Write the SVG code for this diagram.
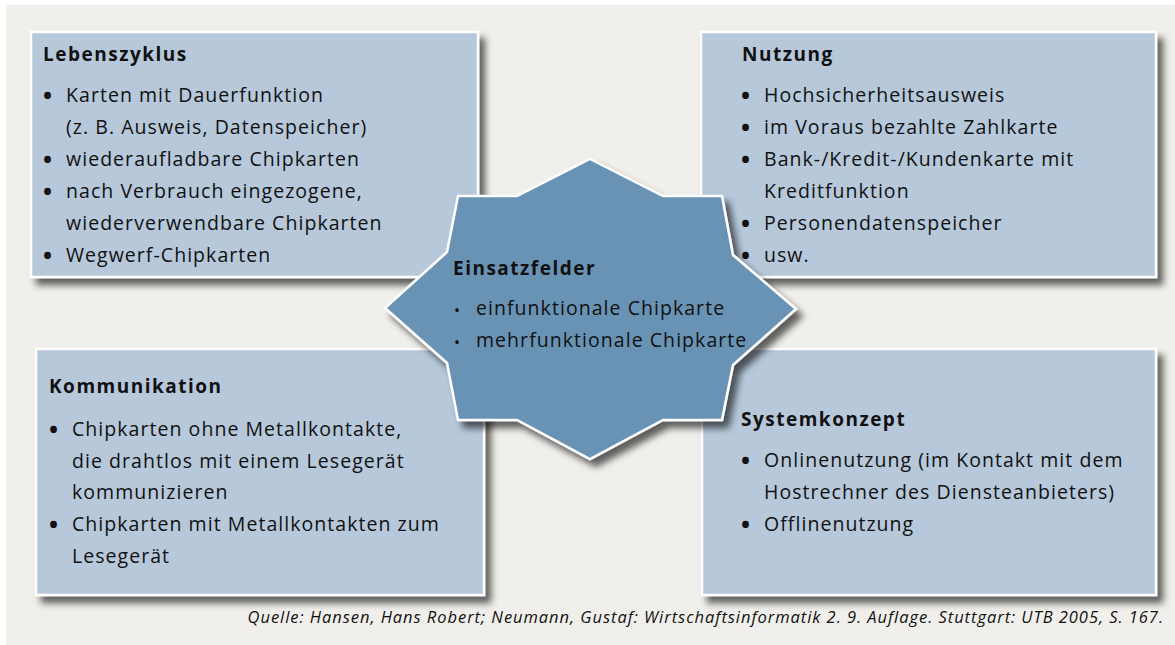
<svg xmlns="http://www.w3.org/2000/svg" width="1175" height="645" viewBox="0 0 1175 645">
<defs>
<filter id="sh" x="-10%" y="-10%" width="125%" height="130%">
<feDropShadow dx="6" dy="7" stdDeviation="3.5" flood-color="#000" flood-opacity="0.6"/>
</filter>
<style>
.box{fill:#b6c8da;stroke:#fff;stroke-width:2.5;filter:url(#sh)}
.star{fill:#6993b5;stroke:#fff;stroke-width:2.5;filter:url(#sh)}
text{font-family:"Open Sans","Noto Sans","Liberation Sans",sans-serif;fill:#111}
.t{font-size:19px;font-weight:700;letter-spacing:1.5px}
.b{font-size:19.5px;letter-spacing:1.05px}
.d{font-size:24px;font-weight:700}
.sd{font-size:16px}
.q{font-size:16.5px;font-style:italic;letter-spacing:0.95px}
</style>
</defs>
<rect x="0" y="0" width="1175" height="645" fill="#fff"/>
<rect x="6" y="5" width="1169" height="640" fill="#f1efeb"/>
<g id="lebenszyklus">
<rect class="box" x="31" y="32" width="447" height="245"/>
<text class="t" x="43" y="61">Lebenszyklus</text>
<text class="d" x="43" y="104">•</text><text class="b" x="66" y="102">Karten mit Dauerfunktion</text>
<text class="b" x="66" y="134">(z. B. Ausweis, Datenspeicher)</text>
<text class="d" x="43" y="168">•</text><text class="b" x="66" y="166">wiederaufladbare Chipkarten</text>
<text class="d" x="43" y="200">•</text><text class="b" x="66" y="198">nach Verbrauch eingezogene,</text>
<text class="b" x="66" y="230">wiederverwendbare Chipkarten</text>
<text class="d" x="43" y="264">•</text><text class="b" x="66" y="262">Wegwerf-Chipkarten</text>
</g>
<g id="nutzung">
<rect class="box" x="701" y="32" width="455" height="245"/>
<text class="t" x="742" y="61">Nutzung</text>
<text class="d" x="741" y="104">•</text><text class="b" x="764" y="102">Hochsicherheitsausweis</text>
<text class="d" x="741" y="136">•</text><text class="b" x="764" y="134">im Voraus bezahlte Zahlkarte</text>
<text class="d" x="741" y="168">•</text><text class="b" x="764" y="166">Bank-/Kredit-/Kundenkarte mit</text>
<text class="b" x="764" y="198">Kreditfunktion</text>
<text class="d" x="741" y="232">•</text><text class="b" x="764" y="230">Personendatenspeicher</text>
<text class="d" x="741" y="264">•</text><text class="b" x="764" y="262">usw.</text>
</g>
<g id="kommunikation">
<rect class="box" x="36" y="349" width="448" height="246"/>
<text class="t" x="49" y="393">Kommunikation</text>
<text class="d" x="49" y="438">•</text><text class="b" x="72" y="436">Chipkarten ohne Metallkontakte,</text>
<text class="b" x="72" y="468">die drahtlos mit einem Lesegerät</text>
<text class="b" x="72" y="499">kommunizieren</text>
<text class="d" x="49" y="533">•</text><text class="b" x="72" y="531">Chipkarten mit Metallkontakten zum</text>
<text class="b" x="72" y="563">Lesegerät</text>
</g>
<g id="systemkonzept">
<rect class="box" x="702" y="349" width="454" height="246"/>
<text class="t" x="741" y="426">Systemkonzept</text>
<text class="d" x="741" y="469">•</text><text class="b" x="764" y="467">Onlinenutzung (im Kontakt mit dem</text>
<text class="b" x="764" y="499">Hostrechner des Diensteanbieters)</text>
<text class="d" x="741" y="533">•</text><text class="b" x="764" y="531">Offlinenutzung</text>
</g>
<g id="connectors"></g>
<g id="einsatzfelder">
<polygon class="star" points="590,159 663,196 722,196 733,255 796,309 733,365 722,420 663,420 590,459 517,420 458,420 447,363 385,308 447,252 458,196 517,196"/>
<text class="t" x="453" y="275">Einsatzfelder</text>
<text class="sd" x="454" y="316">•</text><text class="b" x="476" y="315">einfunktionale Chipkarte</text>
<text class="sd" x="454" y="348">•</text><text class="b" x="476" y="347">mehrfunktionale Chipkarte</text>
</g>
<text class="q" x="1164" y="623" text-anchor="end">Quelle: Hansen, Hans Robert; Neumann, Gustaf: Wirtschaftsinformatik 2. 9. Auflage. Stuttgart: UTB 2005, S. 167.</text>
</svg>
